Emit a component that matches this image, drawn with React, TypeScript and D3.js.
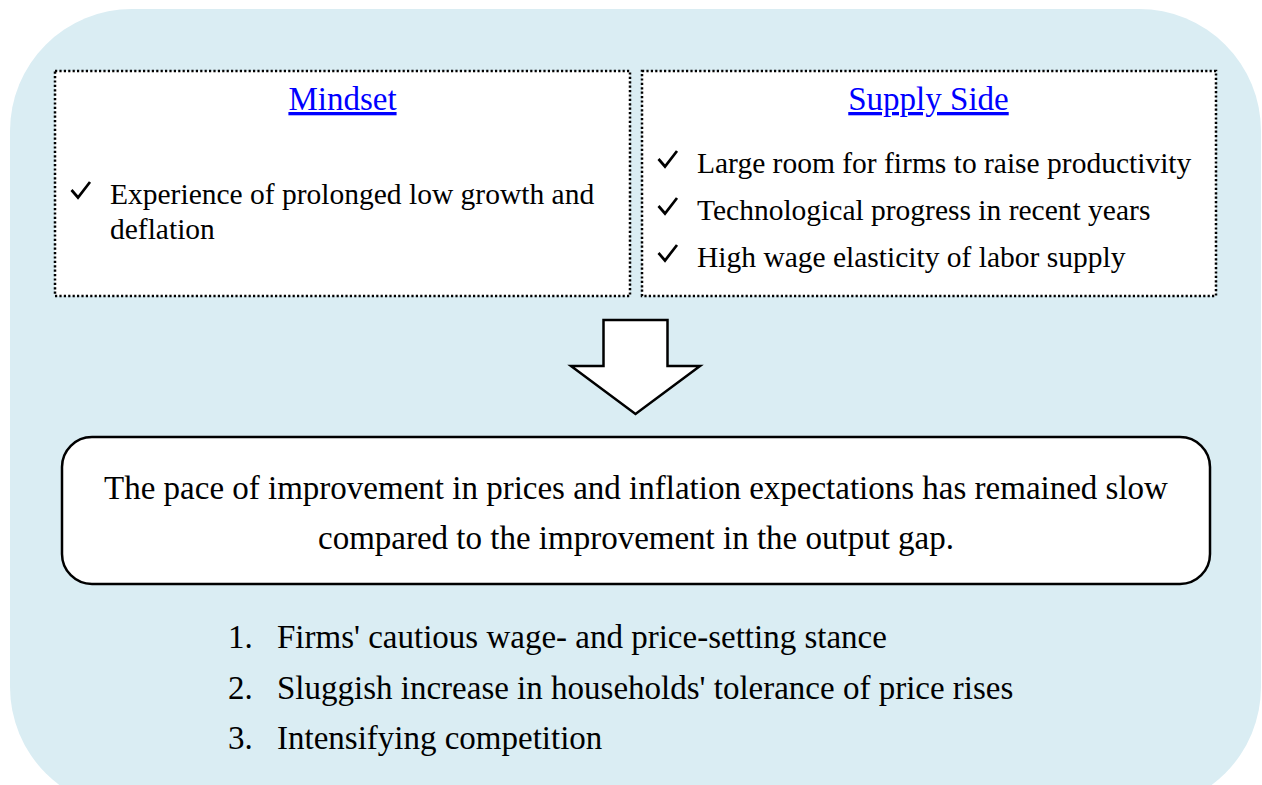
import React from "react";
import * as d3 from "d3";

const mindsetTitle = "Mindset";
const supplyTitle = "Supply Side";
const mindsetLines = ["Experience of prolonged low growth and", "deflation"];
const supplyItems = [
  "Large room for firms to raise productivity",
  "Technological progress in recent years",
  "High wage elasticity of labor supply",
];
const conclusionLines = [
  "The pace of improvement in prices and inflation expectations has remained slow",
  "compared to the improvement in the output gap.",
];
const factorItems = [
  "Firms' cautious wage- and price-setting stance",
  "Sluggish increase in households' tolerance of price rises",
  "Intensifying competition",
];

const W = 1262;
const H = 785;
const SERIF = "'Liberation Serif', 'Times New Roman', serif";
const BG = "#daedf3";

function Check({ x, y }: { x: number; y: number }) {
  const pts: [number, number][] = [
    [x, y],
    [x + 6.5, y + 7.5],
    [x + 18.5, y - 8],
  ];
  return (
    <path
      d={d3.line()(pts) as string}
      fill="none"
      stroke="#000"
      strokeWidth={2.7}
      strokeLinecap="butt"
      strokeLinejoin="miter"
    />
  );
}

export default function App() {
  const arrow = { cx: 635.5, top: 320, shaftHalf: 32, shaftBottom: 366, headHalf: 64.5, tip: 414 };
  const arrowPts: [number, number][] = [
    [arrow.cx - arrow.shaftHalf, arrow.top],
    [arrow.cx + arrow.shaftHalf, arrow.top],
    [arrow.cx + arrow.shaftHalf, arrow.shaftBottom],
    [arrow.cx + arrow.headHalf, arrow.shaftBottom],
    [arrow.cx, arrow.tip],
    [arrow.cx - arrow.headHalf, arrow.shaftBottom],
    [arrow.cx - arrow.shaftHalf, arrow.shaftBottom],
  ];
  const arrowPath = d3.line()(arrowPts) + "Z";

  const supplyY = d3.scaleLinear().domain([0, 1]).range([173, 220]);
  const listY = d3.scaleLinear().domain([0, 1]).range([648, 698.5]);

  return (
    <svg
      width={W}
      height={H}
      style={{ position: "absolute", left: 0, top: 0, display: "block", background: "#fff" }}
    >
      <rect x={10} y={9} width={1251} height={800} rx={122} ry={122} fill={BG} />

      <rect x={55} y={71} width={575} height={225} fill="#fff" stroke="#000" strokeWidth={2.5} strokeDasharray="2.2,2.2" />
      <rect x={642} y={71} width={574} height={225} fill="#fff" stroke="#000" strokeWidth={2.5} strokeDasharray="2.2,2.2" />

      <text x={342.5} y={110} textAnchor="middle" fontFamily={SERIF} fontSize={33} fill="#0000ff" textDecoration="underline">
        {mindsetTitle}
      </text>
      <text x={928.5} y={110} textAnchor="middle" fontFamily={SERIF} fontSize={33} fill="#0000ff" textDecoration="underline">
        {supplyTitle}
      </text>

      <Check x={71.5} y={190} />
      {mindsetLines.map((l, i) => (
        <text key={l} x={110} y={204 + i * 35} fontFamily={SERIF} fontSize={29.5} fill="#000">
          {l}
        </text>
      ))}

      {supplyItems.map((s, i) => (
        <g key={s}>
          <Check x={658.5} y={supplyY(i) - 14} />
          <text x={697} y={supplyY(i)} fontFamily={SERIF} fontSize={29.5} fill="#000">
            {s}
          </text>
        </g>
      ))}

      <path d={arrowPath} fill="#fff" stroke="#000" strokeWidth={2.5} strokeLinejoin="miter" />

      <rect x={62} y={437} width={1148} height={147} rx={30} ry={30} fill="#fff" stroke="#000" strokeWidth={2.5} />
      {conclusionLines.map((l, i) => (
        <text key={l} x={636} y={499 + i * 50} textAnchor="middle" fontFamily={SERIF} fontSize={33} fill="#000">
          {l}
        </text>
      ))}

      {factorItems.map((f, i) => (
        <g key={f}>
          <text x={228} y={listY(i)} fontFamily={SERIF} fontSize={33} fill="#000">{`${i + 1}.`}</text>
          <text x={277} y={listY(i)} fontFamily={SERIF} fontSize={33} fill="#000">{f}</text>
        </g>
      ))}
    </svg>
  );
}
